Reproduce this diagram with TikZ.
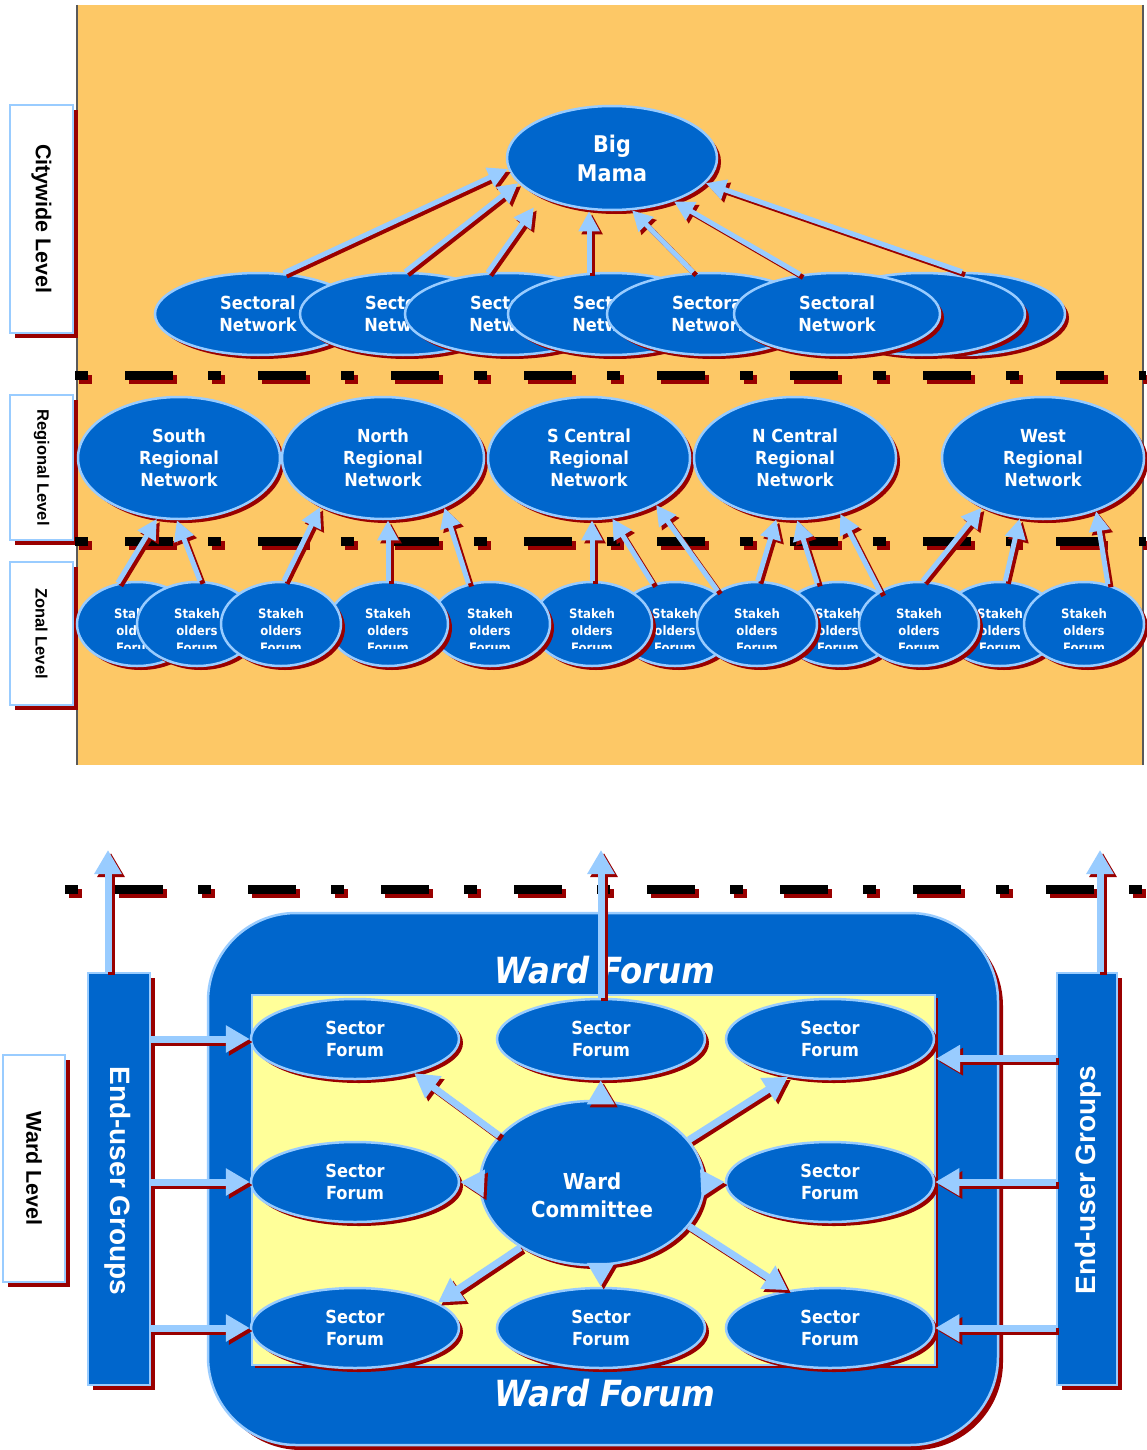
\documentclass[tikz,border=0pt]{standalone}
\usepackage{fontspec}
\setmainfont{DejaVu Sans}
\newfontfamily\tfont{DejaVu Sans}[FakeStretch=0.9]
\newfontfamily\afont{Liberation Sans}
\usetikzlibrary{shapes.geometric,shadows,arrows.meta,calc}
\definecolor{orng}{RGB}{253,200,102}
\definecolor{mblue}{RGB}{0,102,204}
\definecolor{lblue}{RGB}{153,204,255}
\definecolor{dred}{RGB}{153,0,0}
\definecolor{ylw}{RGB}{255,255,153}
\tikzset{
  rshadow/.style={drop shadow={shadow xshift=4pt, shadow yshift=-4pt, fill=dred, opacity=1}},
  ell/.style={ellipse, draw=lblue, line width=2.5pt, fill=mblue, text=white, align=center, inner sep=0pt, rshadow},
  sect/.style={ell, minimum width=206pt, minimum height=82pt, font=\tfont\bfseries\fontsize{18}{22}\selectfont},
  reg/.style={ell, minimum width=202pt, minimum height=122pt, font=\tfont\bfseries\fontsize{18}{22}\selectfont},
  stake/.style={ell, minimum width=120pt, minimum height=84pt},
  stxt/.style={text=white, align=center, inner sep=0pt, font=\tfont\bfseries\fontsize{13}{17}\selectfont},
  sf/.style={ell, minimum width=208pt, minimum height=80pt, font=\tfont\bfseries\fontsize{18}{22}\selectfont},
  lbox/.style={rectangle, draw=lblue, line width=2.5pt, fill=white, inner sep=0pt, drop shadow={shadow xshift=5pt, shadow yshift=-5pt, fill=dred, opacity=1}},
  bbox/.style={rectangle, draw=lblue, line width=2.5pt, fill=mblue, inner sep=0pt, drop shadow={shadow xshift=5pt, shadow yshift=-5pt, fill=dred, opacity=1}},
  ltext/.style={rotate=-90, text=black, inner sep=0pt, font=\afont\bfseries\fontsize{21.5}{24}\selectfont},
  lstext/.style={rotate=-90, text=black, inner sep=0pt, font=\afont\bfseries\fontsize{16.5}{18}\selectfont},
  eugtext/.style={text=white, inner sep=0pt, font=\afont\bfseries\fontsize{28}{30}\selectfont},
  wftext/.style={text=white, inner sep=0pt, font=\tfont\bfseries\itshape\fontsize{36}{40}\selectfont},
  dl/.style={line width=9pt, dash pattern=on 13pt off 37pt on 48pt off 35pt},
  tarfg/.style={draw=lblue, line width=5pt, -{Triangle[length=20pt,width=20pt]}},
  tarsh/.style={tarfg, draw=dred, transform canvas={shift={(3pt,-3pt)}}},
  barfg/.style={draw=lblue, line width=7pt, -{Triangle[length=24pt,width=26pt]}},
  barsh/.style={barfg, draw=dred, transform canvas={shift={(3pt,-3pt)}}}
}
\newcommand\tarr[3][]{\draw[tarsh,#1] #2 -- #3; \draw[tarfg,#1] #2 -- #3;}
\newcommand\barr[3][]{\draw[barsh,#1] #2 -- #3; \draw[barfg,#1] #2 -- #3;}
\newcommand\stk[2]{%
  \node[stake] (#1) at (#2,624) {};
  \begin{scope}
    \clip (#2-50,595) rectangle (#2+50,648);
    \node[stxt] (#1t) at (#2,631) {Stakeh\\olders\\Forum};
  \end{scope}}
\begin{document}
\begin{tikzpicture}[x=1pt,y=-1pt]
\useasboundingbox (0,0) rectangle (1146,1450);
\fill[white] (0,0) rectangle (1146,1450);
% ---------- top panel ----------
\fill[orng] (77,5) rectangle (1143,765);
\draw[black!65, line width=2.5pt] (77,5) -- (77,765);
\draw[black!65, line width=1.5pt] (1143,5) -- (1143,765);

% level labels
\node[lbox, minimum width=63pt, minimum height=228pt] (cwb) at (41.5,219) {};
\node[ltext] (cwt) at (cwb) {Citywide Level};
\node[lbox, minimum width=63pt, minimum height=145pt] (rgb) at (41.5,467.5) {};
\node[lstext] (rgt) at (rgb) {Regional Level};
\node[lbox, minimum width=63pt, minimum height=143pt] (znb) at (41.5,633.5) {};
\node[lstext] (znt) at (znb) {Zonal Level};
\node[lbox, minimum width=62pt, minimum height=227pt] (wlb) at (34,1168.5) {};
\node[ltext] (wlt) at (wlb) {Ward Level};

% dashed separators
\draw[dl, dred] (79,379) -- (1150,379);
\draw[dl, black] (75,375) -- (1146,375);
\draw[dl, dred] (79,545) -- (1150,545);
\draw[dl, black] (75,541) -- (1146,541);
\draw[dl, dred] (69,893) -- (1150,893);
\draw[dl, black] (65,889) -- (1146,889);

% Big Mama
\node[ell, minimum width=210pt, minimum height=104pt, font=\tfont\bfseries\fontsize{23}{29}\selectfont] (big) at (612,158) {Big\\Mama};

% sectoral networks
\node[sect] (s1) at (258,314) {Sectoral\\Network};
\node[sect] (s2) at (403,314) {Sectoral\\Network};
\node[sect] (s3) at (508,314) {Sectoral\\Network};
\node[sect] (s4) at (611,314) {Sectoral\\Network};
\node[sect] (s5) at (710,314) {Sectoral\\Network};
\node[sect] (s8) at (962,314) {};
\node[sect] (s7) at (922,314) {};
\node[sect] (s6) at (837,314) {Sectoral\\Network};

\tarr{(s1.58)}{(big.186)}
\tarr{(s2.87)}{(big.195)}
\tarr[shorten >=12pt]{(s3.116)}{(big.209)}
\tarr{(s4.118)}{(s4.118 |- big.south)}
\tarr{(s5.112)}{(big.291)}
\tarr{(s6.133)}{(big.325)}
\tarr{(s8.north)}{(big.345)}

% regional networks
\node[reg] (south) at (179,458) {South\\Regional\\Network};
\node[reg] (north) at (383,458) {North\\Regional\\Network};
\node[reg] (scen) at (589,458) {S Central\\Regional\\Network};
\node[reg] (ncen) at (795,458) {N Central\\Regional\\Network};
\node[reg] (west) at (1043,458) {West\\Regional\\Network};

% stakeholder forums
\stk{e1}{137}
\stk{e2}{197}
\stk{e7}{675}
\stk{e6}{592}
\stk{e5}{490}
\stk{e4}{388}
\stk{e3}{281}
\stk{e9}{838}
\stk{e8}{757}
\stk{e11}{1000}
\stk{e12}{1084}
\stk{e10}{919}

\tarr{(e1.115)}{(south.250)}
\tarr{(e2.86)}{(south.268)}
\tarr{(e3.86)}{(north.218)}
\tarr{(e4.north)}{(e4.north |- north.south)}
\tarr{(e5.118)}{(north.321)}
\tarr{(e6.north)}{(e6.north |- scen.south)}
\tarr{(e7.119)}{(scen.291)}
\tarr{(e8.140)}{(scen.325)}
\tarr{(e8.89)}{(ncen.253)}
\tarr{(e9.117)}{(ncen.272)}
\tarr{(e9.36)}{(ncen.309)}
\tarr{(e10.85)}{(west.219)}
\tarr{(e11.83)}{(west.249)}
\tarr{(e12.59)}{(west.315)}

% ---------- bottom panel ----------
\node[bbox, rounded corners=88pt, minimum width=790pt, minimum height=532pt] (wf) at (603,1179) {};
\node[wftext] (wft) at (605,970) {Ward Forum};
\node[wftext] (wfb) at (605,1393) {Ward Forum};
\node[rectangle, fill=ylw, draw=lblue, line width=2pt, inner sep=0pt, minimum width=683pt, minimum height=370pt, drop shadow={shadow xshift=3pt, shadow yshift=-3pt, fill=dred, opacity=1}] (yl) at (593.5,1180) {};

\node[sf] (tl) at (355,1039) {Sector\\Forum};
\node[sf] (tm) at (601,1039) {Sector\\Forum};
\node[sf] (tr) at (830,1039) {Sector\\Forum};
\node[sf] (ml) at (355,1182) {Sector\\Forum};
\node[sf] (mr) at (830,1182) {Sector\\Forum};
\node[sf] (bl) at (355,1328) {Sector\\Forum};
\node[sf] (bmf) at (601,1328) {Sector\\Forum};
\node[sf] (br) at (830,1328) {Sector\\Forum};
\node[ell, minimum width=224pt, minimum height=164pt] (wc) at (592,1183) {};
\node[text=white, align=center, inner sep=0pt, font=\tfont\bfseries\fontsize{22}{28}\selectfont] (wct) at (592,1195) {Ward\\Committee};

\barr{(wc.153)}{(tl.330)}
\barr{(wc.84)}{(wc.84 |- tm.south)}
\barr{(wc.24)}{(tr.222)}
\barr{(wc.west)}{(ml.east)}
\barr{(wc.east)}{(mr.west)}
\barr{(wc.222)}{(bl.17)}
\barr{(wc.276)}{(wc.276 |- bmf.north)}
\barr{(wc.336)}{(br.138)}

% end-user groups
\node[bbox, minimum width=62pt, minimum height=412pt] (lb) at (119,1179) {};
\node[eugtext, rotate=-90] (lbt) at (118,1181) {End-user Groups};
\node[bbox, minimum width=60pt, minimum height=412pt] (rb) at (1087,1179) {};
\node[eugtext, rotate=90] (rbt) at (1088,1180) {End-user Groups};

\barr{(lb.east |- tl.west)}{(tl.west)}
\barr{(lb.east |- ml.west)}{(ml.west)}
\barr{(lb.east |- bl.west)}{(bl.west)}
\barr{(rb.west |- tr.348)}{(yl.east |- tr.348)}
\barr{(rb.west |- mr.east)}{(mr.east)}
\barr{(rb.west |- br.east)}{(br.east)}

\coordinate (upL) at (108,850);
\coordinate (upR) at (1100,850);
\barr{(upL |- lb.north)}{(upL)}
\barr{(upR |- rb.north)}{(upR)}
\barr{(tm.north)}{(tm.north |- upL)}
\end{tikzpicture}
\end{document}
